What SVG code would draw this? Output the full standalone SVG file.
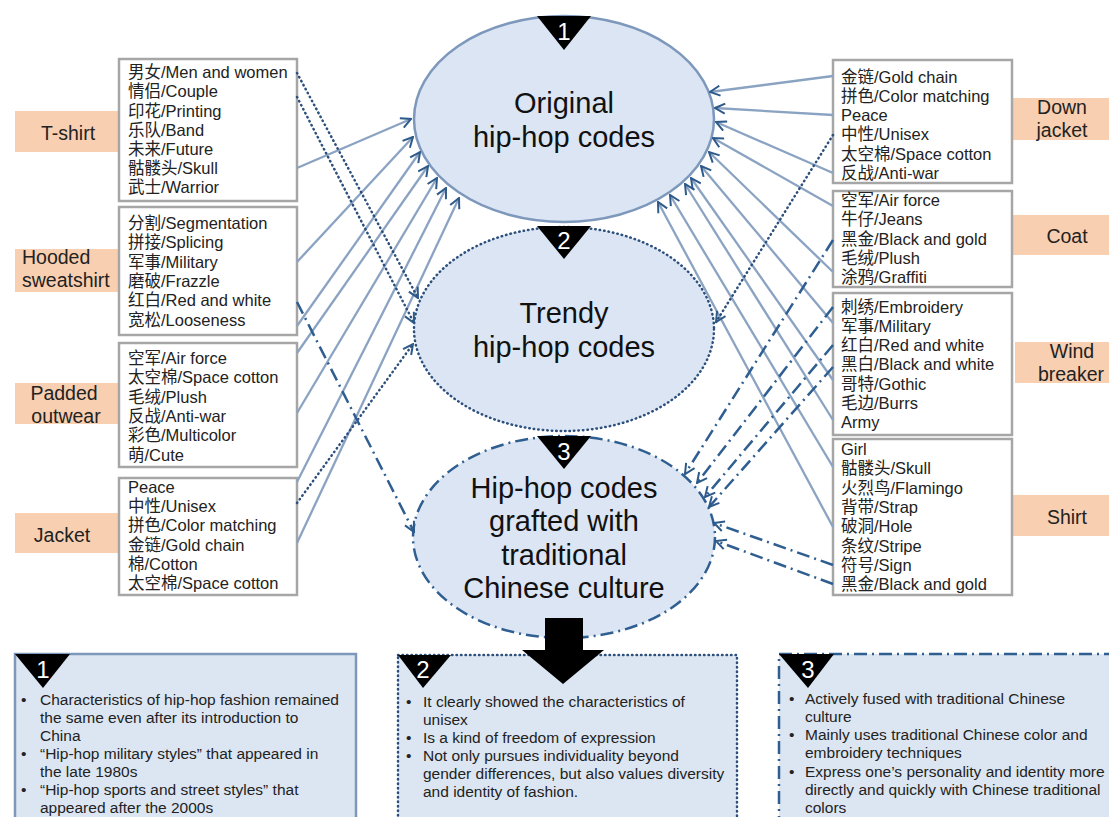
<svg xmlns="http://www.w3.org/2000/svg" width="1109" height="817" viewBox="0 0 1109 817">
<style>
.bx{fill:#fff;stroke:#a6a6a6;stroke-width:2.5}
.lb{fill:#f9cfb1}
.t{font-family:"Liberation Sans","Noto Sans CJK SC",sans-serif;font-size:16.5px;fill:#222}
.lt{font-family:"Liberation Sans",sans-serif;font-size:19.5px;fill:#222}
.et{font-family:"Liberation Sans",sans-serif;font-size:29px;fill:#111;text-anchor:middle}
.num{font-family:"Liberation Sans",sans-serif;font-size:24px;fill:#fff;text-anchor:middle}
.bt{font-family:"Liberation Sans",sans-serif;font-size:15.5px;fill:#222}
.sol{fill:none;stroke:#8ba3c2;stroke-width:2.3;marker-end:url(#ah)}
.dot{fill:none;stroke:#2c4f7c;stroke-width:2.5;stroke-linecap:round;stroke-dasharray:0.5 4;marker-end:url(#ah)}
.dd{fill:none;stroke:#2f5e90;stroke-width:2.5;stroke-dasharray:13 5 2 5;marker-end:url(#ah)}
.tri{fill:#000}
</style>
<defs>
<marker id="ah" viewBox="0 0 12 12" refX="11" refY="6" markerWidth="12" markerHeight="12" markerUnits="userSpaceOnUse" orient="auto">
<path d="M1,1 L11,6 L1,11" fill="none" stroke="#2e5a8a" stroke-width="2"/>
</marker>
</defs>
<rect width="1109" height="817" fill="#fff"/>

<!-- Ellipses -->
<g id="node-original">
<ellipse cx="564" cy="119" rx="150" ry="103" fill="#dbe5f4" stroke="#7d98bb" stroke-width="2.5"/>
<text class="et" x="564" y="113">Original</text>
<text class="et" x="564" y="147">hip-hop codes</text>
<polygon class="tri" points="537,16 591,16 564,50"/>
<text class="num" x="564" y="40">1</text>
</g>
<g id="node-trendy">
<ellipse cx="564" cy="329" rx="150" ry="102" fill="#dbe5f4" stroke="#2c4f7c" stroke-width="2.5" stroke-linecap="round" stroke-dasharray="0.5 4"/>
<text class="et" x="564" y="323">Trendy</text>
<text class="et" x="564" y="357">hip-hop codes</text>
<polygon class="tri" points="537,226 591,226 564,259"/>
<text class="num" x="564" y="249">2</text>
</g>
<g id="node-grafted">
<ellipse cx="564" cy="537" rx="151" ry="101" fill="#dbe5f4" stroke="#2f5e90" stroke-width="2.5" stroke-dasharray="13 5 2 5"/>
<text class="et" x="564" y="498">Hip-hop codes</text>
<text class="et" x="564" y="531">grafted with</text>
<text class="et" x="564" y="565">traditional</text>
<text class="et" x="564" y="598">Chinese culture</text>
<polygon class="tri" points="537,436 591,436 564,469"/>
<text class="num" x="564" y="460">3</text>
</g>

<!-- Left labels -->
<g id="lbl-tshirt"><rect class="lb" x="15" y="111" width="103" height="41"/><text class="lt" x="68" y="140" text-anchor="middle">T-shirt</text></g>
<g id="lbl-hooded"><rect class="lb" x="15" y="249" width="103" height="43"/><text class="lt" x="22" y="264">Hooded</text><text class="lt" x="22" y="287">sweatshirt</text></g>
<g id="lbl-padded"><rect class="lb" x="15" y="383" width="103" height="41"/><text class="lt" x="64" y="400" text-anchor="middle">Padded</text><text class="lt" x="66" y="423" text-anchor="middle">outwear</text></g>
<g id="lbl-jacket"><rect class="lb" x="15" y="513" width="103" height="40"/><text class="lt" x="62" y="542" text-anchor="middle">Jacket</text></g>

<!-- Right labels -->
<g id="lbl-down"><rect class="lb" x="1013" y="98" width="96" height="42"/><text class="lt" x="1062" y="114" text-anchor="middle">Down</text><text class="lt" x="1062" y="137" text-anchor="middle">jacket</text></g>
<g id="lbl-coat"><rect class="lb" x="1013" y="215" width="96" height="40"/><text class="lt" x="1067" y="243" text-anchor="middle">Coat</text></g>
<g id="lbl-wind"><rect class="lb" x="1015" y="342" width="94" height="41"/><text class="lt" x="1072" y="358" text-anchor="middle">Wind</text><text class="lt" x="1071" y="381" text-anchor="middle">breaker</text></g>
<g id="lbl-shirt"><rect class="lb" x="1013" y="495" width="96" height="41"/><text class="lt" x="1067" y="524" text-anchor="middle">Shirt</text></g>

<!-- Left boxes -->
<g id="box-tshirt"><rect class="bx" x="119" y="59" width="178" height="142"/>
<text class="t" x="128" y="78">男女/Men and women</text>
<text class="t" x="128" y="97">情侣/Couple</text>
<text class="t" x="128" y="117">印花/Printing</text>
<text class="t" x="128" y="136">乐队/Band</text>
<text class="t" x="128" y="155">未来/Future</text>
<text class="t" x="128" y="174">骷髅头/Skull</text>
<text class="t" x="128" y="193">武士/Warrior</text></g>
<g id="box-hooded"><rect class="bx" x="119" y="207" width="178" height="128"/>
<text class="t" x="128" y="229">分割/Segmentation</text>
<text class="t" x="128" y="248">拼接/Splicing</text>
<text class="t" x="128" y="268">军事/Military</text>
<text class="t" x="128" y="287">磨破/Frazzle</text>
<text class="t" x="128" y="306">红白/Red and white</text>
<text class="t" x="128" y="326">宽松/Looseness</text></g>
<g id="box-padded"><rect class="bx" x="119" y="343" width="178" height="124"/>
<text class="t" x="128" y="364">空军/Air force</text>
<text class="t" x="128" y="383">太空棉/Space cotton</text>
<text class="t" x="128" y="403">毛绒/Plush</text>
<text class="t" x="128" y="422">反战/Anti-war</text>
<text class="t" x="128" y="441">彩色/Multicolor</text>
<text class="t" x="128" y="461">萌/Cute</text></g>
<g id="box-jacket"><rect class="bx" x="119" y="478" width="178" height="117"/>
<text class="t" x="128" y="493">Peace</text>
<text class="t" x="128" y="512">中性/Unisex</text>
<text class="t" x="128" y="531">拼色/Color matching</text>
<text class="t" x="128" y="551">金链/Gold chain</text>
<text class="t" x="128" y="570">棉/Cotton</text>
<text class="t" x="128" y="589">太空棉/Space cotton</text></g>

<!-- Right boxes -->
<g id="box-down"><rect class="bx" x="833" y="60" width="179" height="123"/>
<text class="t" x="841" y="83">金链/Gold chain</text>
<text class="t" x="841" y="102">拼色/Color matching</text>
<text class="t" x="841" y="121">Peace</text>
<text class="t" x="841" y="140">中性/Unisex</text>
<text class="t" x="841" y="160">太空棉/Space cotton</text>
<text class="t" x="841" y="179">反战/Anti-war</text></g>
<g id="box-coat"><rect class="bx" x="833" y="191" width="179" height="96"/>
<text class="t" x="841" y="206">空军/Air force</text>
<text class="t" x="841" y="225">牛仔/Jeans</text>
<text class="t" x="841" y="245">黑金/Black and gold</text>
<text class="t" x="841" y="264">毛绒/Plush</text>
<text class="t" x="841" y="283">涂鸦/Graffiti</text></g>
<g id="box-wind"><rect class="bx" x="833" y="293" width="179" height="142"/>
<text class="t" x="841" y="313">刺绣/Embroidery</text>
<text class="t" x="841" y="332">军事/Military</text>
<text class="t" x="841" y="351">红白/Red and white</text>
<text class="t" x="841" y="370">黑白/Black and white</text>
<text class="t" x="841" y="390">哥特/Gothic</text>
<text class="t" x="841" y="409">毛边/Burrs</text>
<text class="t" x="841" y="428">Army</text></g>
<g id="box-shirt"><rect class="bx" x="833" y="439" width="179" height="156"/>
<text class="t" x="841" y="455">Girl</text>
<text class="t" x="841" y="474">骷髅头/Skull</text>
<text class="t" x="841" y="494">火烈鸟/Flamingo</text>
<text class="t" x="841" y="513">背带/Strap</text>
<text class="t" x="841" y="532">破洞/Hole</text>
<text class="t" x="841" y="552">条纹/Stripe</text>
<text class="t" x="841" y="571">符号/Sign</text>
<text class="t" x="841" y="590">黑金/Black and gold</text></g>

<!-- Connectors -->
<g id="connectors">
<line class="sol" x1="297" y1="168" x2="411" y2="119"/>
<line class="sol" x1="297" y1="262" x2="413" y2="137"/>
<line class="sol" x1="297" y1="326" x2="420" y2="152"/>
<line class="sol" x1="297" y1="353" x2="428" y2="166"/>
<line class="sol" x1="297" y1="413" x2="437" y2="178"/>
<line class="sol" x1="297" y1="482" x2="446" y2="188"/>
<line class="sol" x1="297" y1="543" x2="459" y2="198"/>
<line class="sol" x1="833" y1="76" x2="710" y2="92"/>
<line class="sol" x1="833" y1="115" x2="715" y2="108"/>
<line class="sol" x1="833" y1="173" x2="716" y2="122"/>
<line class="sol" x1="833" y1="206" x2="713" y2="138"/>
<line class="sol" x1="833" y1="272" x2="709" y2="152"/>
<line class="sol" x1="833" y1="323" x2="701" y2="166"/>
<line class="sol" x1="833" y1="380" x2="691" y2="178"/>
<line class="sol" x1="833" y1="420" x2="685" y2="184"/>
<line class="sol" x1="833" y1="467" x2="670" y2="195"/>
<line class="sol" x1="833" y1="527" x2="658" y2="202"/>
<line class="dot" x1="297" y1="73" x2="418" y2="298"/>
<line class="dot" x1="297" y1="97" x2="414" y2="323"/>
<line class="dot" x1="297" y1="503" x2="413" y2="344"/>
<line class="dot" x1="833" y1="135" x2="716" y2="322"/>
<line class="dd" x1="297" y1="302" x2="414" y2="532"/>
<line class="dd" x1="833" y1="240" x2="685" y2="474"/>
<line class="dd" x1="833" y1="307" x2="697" y2="483"/>
<line class="dd" x1="833" y1="345" x2="705" y2="497"/>
<line class="dd" x1="833" y1="367" x2="709" y2="507"/>
<line class="dd" x1="833" y1="565" x2="714" y2="523"/>
<line class="dd" x1="833" y1="584" x2="716" y2="541"/>
</g>

<!-- Bottom summary boxes -->
<g id="summary-1">
<rect x="15" y="654" width="341" height="180" fill="#dce6f2" stroke="#7d98bb" stroke-width="2.5"/>
<polygon class="tri" points="15,654 70,654 43,688"/>
<text class="num" x="43" y="678">1</text>
<text class="bt" x="21" y="705">•</text><text class="bt" x="40" y="705">Characteristics of hip-hop fashion remained</text>
<text class="bt" x="40" y="723">the same even after its introduction to</text>
<text class="bt" x="40" y="741">China</text>
<text class="bt" x="21" y="759">•</text><text class="bt" x="40" y="759">“Hip-hop military styles” that appeared in</text>
<text class="bt" x="40" y="777">the late 1980s</text>
<text class="bt" x="21" y="795">•</text><text class="bt" x="40" y="795">“Hip-hop sports and street styles” that</text>
<text class="bt" x="40" y="813">appeared after the 2000s</text>
</g>
<g id="summary-2">
<rect x="398" y="655" width="339" height="180" fill="#dce6f2" stroke="#2c4f7c" stroke-width="2.5" stroke-linecap="round" stroke-dasharray="0.5 4"/>
<polygon class="tri" points="398,655 451,655 423,688"/>
<text class="num" x="423" y="678">2</text>
<text class="bt" x="406" y="707">•</text><text class="bt" x="423" y="707">It clearly showed the characteristics of</text>
<text class="bt" x="423" y="725">unisex</text>
<text class="bt" x="406" y="743">•</text><text class="bt" x="423" y="743">Is a kind of freedom of expression</text>
<text class="bt" x="406" y="761">•</text><text class="bt" x="423" y="761">Not only pursues individuality beyond</text>
<text class="bt" x="423" y="779">gender differences, but also values diversity</text>
<text class="bt" x="423" y="797">and identity of fashion.</text>
</g>
<g id="summary-3">
<rect x="779" y="654" width="345" height="180" fill="#dce6f2" stroke="#2f5e90" stroke-width="2.5" stroke-dasharray="13 5 2 5"/>
<polygon class="tri" points="779,654 834,654 808,688"/>
<text class="num" x="808" y="678">3</text>
<text class="bt" x="789" y="704">•</text><text class="bt" x="805" y="704">Actively fused with traditional Chinese</text>
<text class="bt" x="805" y="722">culture</text>
<text class="bt" x="789" y="740">•</text><text class="bt" x="805" y="740">Mainly uses traditional Chinese color and</text>
<text class="bt" x="805" y="758">embroidery techniques</text>
<text class="bt" x="789" y="777">•</text><text class="bt" x="805" y="777">Express one’s personality and identity more</text>
<text class="bt" x="805" y="795">directly and quickly with Chinese traditional</text>
<text class="bt" x="805" y="813">colors</text>
</g>
<g id="big-arrow">
<polygon fill="#000" points="545,618 583,618 583,650 604,650 563,684 522,650 545,650"/>
</g>
</svg>
